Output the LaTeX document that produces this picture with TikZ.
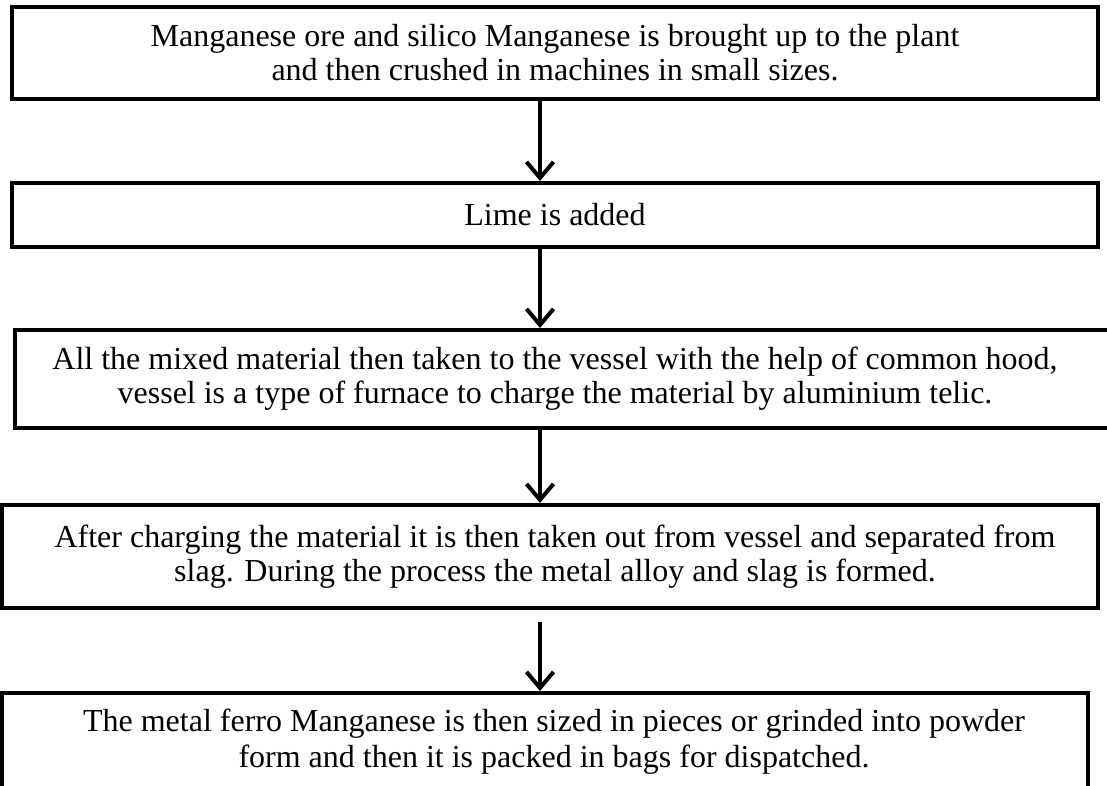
\documentclass[tikz,border=0pt]{standalone}
\usepackage{fontspec}
\setmainfont{Liberation Serif}
\usetikzlibrary{arrows.meta}
\begin{document}
\begin{tikzpicture}[x=1pt,y=-1pt,
  stepbox/.style={draw=black,line width=4pt,rectangle,inner sep=0pt,
    align=center,font=\fontsize{32}{34}\selectfont},
  flow/.style={line width=4pt,-{Straight Barb[length=16pt,width=27pt,line width=4pt]}}]
\useasboundingbox (0,0) rectangle (1107,786);
\fill[white] (0,0) rectangle (1107,786);

\node[stepbox,minimum width=1086pt,minimum height=92pt] (b1) at (555,53)
  {Manganese ore and silico Manganese is brought up to the plant\\
   and then crushed in machines in small sizes.};
\node[stepbox,minimum width=1086pt,minimum height=64pt] (b2) at (555,215)
  {Lime is added};
\node[stepbox,minimum width=1100pt,minimum height=98pt] (b3) at (565,379)
  {\hspace*{-20pt}All the mixed material then taken to the vessel with the help of common hood,\\
   \hspace*{-20pt}vessel is a type of furnace to charge the material by aluminium telic.};
\node[stepbox,minimum width=1096pt,minimum height=103pt] (b4) at (550,556.5)
  {\hspace*{10pt}After charging the material it is then taken out from vessel and separated from\\
   \hspace*{10pt}slag. During the process the metal alloy and slag is formed.};
\node[stepbox,minimum width=1086pt,minimum height=120pt] (b5) at (545,753)
  {};
\node[font=\fontsize{32}{36}\selectfont,align=center] (t5) at (554,742)
  {The metal ferro Manganese is then sized in pieces or grinded into powder\\
   form and then it is packed in bags for dispatched.};

\draw[flow] (b1.south -| 540,0) -- (b2.north -| 540,0);
\draw[flow] (b2.south -| 540,0) -- (b3.north -| 540,0);
\draw[flow] (b3.south -| 540,0) -- (b4.north -| 540,0);
\draw[flow] ([yshift=-12pt]b4.south -| 540,0) -- (b5.north -| 540,0);
\end{tikzpicture}
\end{document}
